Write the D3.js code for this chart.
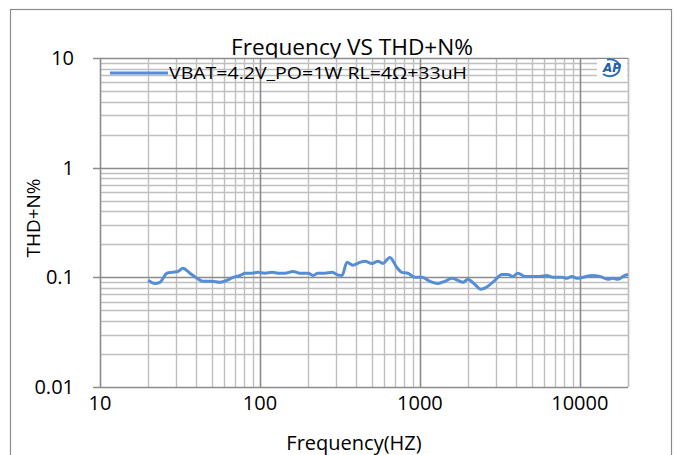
<!DOCTYPE html>
<html><head><meta charset="utf-8">
<script src="https://cdn.jsdelivr.net/npm/d3@7"></script>
<style>body{margin:0;background:#fff}svg{display:block}</style>
</head><body>
<svg id="c" width="678" height="455"></svg>
<script>
const freq = [20,22,23.7,26.2,28.2,30.7,33,36.5,40.4,44,50,56,62,68,75,81,89,97,107,119,130,143,161,178,200,215,230,255,282,303,326,350,381,422,453,501,546,587,649,718,772,841,931,1029,1155,1296,1433,1585,1728,1857,1995,2207,2406,2661,2943,3254,3548,3813,4097,4532,5085,5623,6220,6780,7719,8295,8913,9578,10441,11885,13335,14962,16075,17278,19107,20000];
const thdn = [0.094,0.088,0.090,0.109,0.111,0.113,0.121,0.109,0.098,0.092,0.092,0.090,0.094,0.100,0.104,0.109,0.109,0.111,0.109,0.111,0.109,0.109,0.113,0.109,0.109,0.104,0.109,0.109,0.111,0.106,0.104,0.137,0.129,0.137,0.140,0.134,0.140,0.134,0.152,0.123,0.111,0.109,0.100,0.100,0.092,0.088,0.092,0.098,0.094,0.090,0.096,0.086,0.078,0.083,0.094,0.106,0.106,0.102,0.109,0.102,0.102,0.102,0.104,0.100,0.100,0.098,0.102,0.098,0.100,0.104,0.102,0.096,0.098,0.096,0.104,0.106];
const xTicks = [10,100,1000,10000];
const yTicks = [0.01,0.1,1,10];
const seriesName = "VBAT=4.2V_PO=1W RL=4Ω+33uH";
const title = "Frequency VS THD+N%";
const xTitle = "Frequency(HZ)";
const yTitle = "THD+N%";

const svg = d3.select("#c");
const L=100,R=628,T=58,B=387;
const x = d3.scaleLog().domain([10,20000]).range([L,R]);
const y = d3.scaleLog().domain([0.01,10]).range([B,T]);
const font = "'Open Sans', 'Liberation Sans', sans-serif";

// outer border
svg.append("rect").attr("x",10.5).attr("y",9.5).attr("width",661).attr("height",460)
  .attr("fill","#fff").attr("stroke","#8c8c8c").attr("stroke-width",1.2);

// title (behind plot area)
svg.append("text").attr("x",352).attr("y",55).attr("text-anchor","middle")
  .attr("font-family",font).attr("font-size",22).attr("fill","#000")
  .attr("textLength",242).attr("lengthAdjust","spacingAndGlyphs").text(title);

svg.append("rect").attr("x",L).attr("y",T).attr("width",R-L).attr("height",B-T).attr("fill","#fff");

// grid
const g = svg.append("g");
const minorX=[], majorX=[];
for(let d=10; d<=10000; d*=10){ for(let k=1;k<=9;k++){ const v=d*k; if(v>20000) break; (k===1?majorX:minorX).push(v);} }
minorX.push(20000);
const minorY=[], majorY=[];
for(let d=0.01; d<10; d*=10){ for(let k=1;k<=9;k++){ const v=+(d*k).toPrecision(3); (k===1?majorY:minorY).push(v);} }
majorY.push(10);
g.selectAll(".mx").data(minorX).join("line").attr("x1",d=>Math.round(x(d))+0.5).attr("x2",d=>Math.round(x(d))+0.5)
  .attr("y1",T).attr("y2",B).attr("stroke","#bfbfbf").attr("stroke-width",1.4);
g.selectAll(".my").data(minorY).join("line").attr("y1",d=>Math.round(y(d))+0.5).attr("y2",d=>Math.round(y(d))+0.5)
  .attr("x1",L).attr("x2",R).attr("stroke","#bfbfbf").attr("stroke-width",1.4);
g.selectAll(".Mx").data(majorX.filter(d=>d>10)).join("line").attr("x1",d=>Math.round(x(d))+0.5).attr("x2",d=>Math.round(x(d))+0.5)
  .attr("y1",T).attr("y2",B).attr("stroke","#8c8c8c").attr("stroke-width",1.6);
g.selectAll(".My").data(majorY.filter(d=>d>0.01)).join("line").attr("y1",d=>Math.round(y(d))+0.5).attr("y2",d=>Math.round(y(d))+0.5)
  .attr("x1",L-7).attr("x2",R).attr("stroke","#8c8c8c").attr("stroke-width",1.6);

// axes lines
svg.append("line").attr("x1",L+0.5).attr("x2",L+0.5).attr("y1",T).attr("y2",B).attr("stroke","#8c8c8c").attr("stroke-width",1.6);
svg.append("line").attr("x1",L-7).attr("x2",R).attr("y1",B+0.5).attr("y2",B+0.5).attr("stroke","#8c8c8c").attr("stroke-width",1.6);

// tick labels
svg.selectAll(".yt").data(yTicks).join("text").attr("x",74).attr("y",d=>y(d)+7).attr("text-anchor","end")
  .attr("font-family",font).attr("font-size",20).text(d=>d);
svg.selectAll(".xt").data(xTicks).join("text").attr("x",d=>x(d)).attr("y",410).attr("text-anchor","middle")
  .attr("font-family",font).attr("font-size",20).text(d=>d);

svg.append("text").attr("x",354).attr("y",450).attr("text-anchor","middle")
  .attr("font-family",font).attr("font-size",20).text(xTitle);
svg.append("text").attr("transform","translate(40,218) rotate(-90)").attr("text-anchor","middle")
  .attr("font-family",font).attr("font-size",19).text(yTitle);

// series
const line = d3.line().x((d,i)=>x(freq[i])).y(d=>y(d)).curve(d3.curveMonotoneX);
svg.append("path").datum(thdn).attr("d",line).attr("fill","none").attr("stroke","#558ed5").attr("stroke-width",3).attr("stroke-linejoin","round");

// legend
svg.append("line").attr("x1",110).attr("x2",168).attr("y1",73).attr("y2",73).attr("stroke","#558ed5").attr("stroke-width",3);
svg.append("text").attr("x",169).attr("y",79).attr("font-family",font).attr("font-size",17)
  .attr("textLength",298).attr("lengthAdjust","spacingAndGlyphs").text(seriesName);

// AP logo
const lg = svg.append("g");
lg.append("rect").attr("x",597).attr("y",59).attr("width",30).attr("height",19).attr("fill","#fff");
lg.append("path").attr("d","M603,74 A10,8.5 0 1 0 607,59.5").attr("fill","none").attr("stroke","#2f6fb8").attr("stroke-width",2);
lg.append("text").attr("x",612).attr("y",72).attr("text-anchor","middle").attr("font-family","'DejaVu Sans',sans-serif")
  .attr("font-weight","bold").attr("font-style","italic").attr("font-size",12).attr("fill","#1f5fa8").text("AP");
</script>
</body></html>
